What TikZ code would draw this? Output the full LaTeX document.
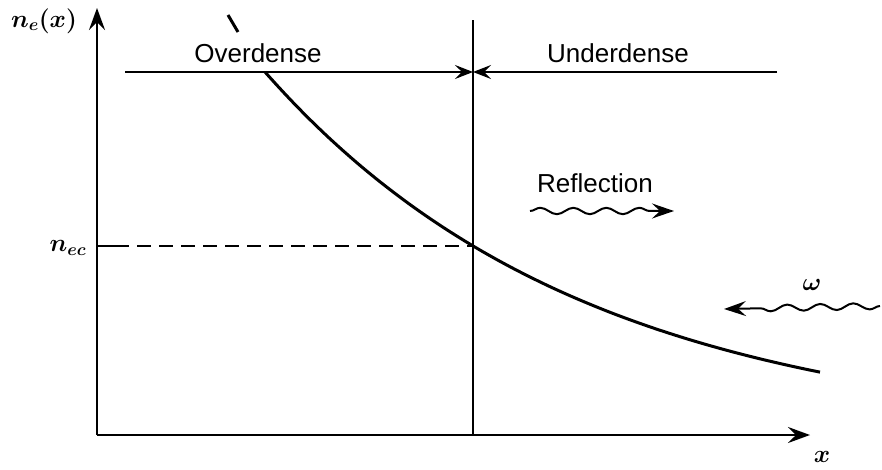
\documentclass[tikz,border=0pt]{standalone}
\usepackage{fontspec}
\setsansfont{Liberation Sans}
\usetikzlibrary{arrows.meta,decorations.pathmorphing}
\begin{document}
\begin{tikzpicture}[x=1pt,y=-1pt,
  axis/.style={line width=2pt,-{Stealth[length=22pt,width=16pt,inset=8pt]}},
  thin line/.style={line width=1.3pt},
  meet/.style={line width=1.3pt,-{Stealth[length=18pt,width=14pt,inset=7pt]}},
  wave/.style={line width=2pt,decorate,decoration={snake,amplitude=3.2pt,segment length=33pt,post length=20pt},-{Stealth[length=22pt,width=15pt,inset=8pt]}},
  lab/.style={font=\sffamily\fontsize{26}{30}\selectfont,inner sep=0pt},
  mlab/.style={font=\fontsize{27}{30}\selectfont\boldmath,inner sep=0pt}]
\useasboundingbox (0,0) rectangle (882,470);
\coordinate (O) at (97,435);
\coordinate (ytop) at (97,8);
\coordinate (xend) at (810,435);
\coordinate (vtop) at (473,20);
\coordinate (vbot) at (473,435);
\coordinate (hl) at (125,72);
\coordinate (hr) at (777,72);
\coordinate (hm) at (473,72);
\coordinate (dl) at (97,246);
\coordinate (dt) at (115,246);
\coordinate (dm) at (473,246);
\coordinate (t1) at (228,15);
\coordinate (t2) at (238,32);
\coordinate (r1) at (530,211);
\coordinate (r2) at (674,211);
\coordinate (w1) at (880,306);
\coordinate (w2) at (724,309);
% axes
\draw[axis] (O) -- (ytop);
\draw[axis] (O) -- (xend);
% vertical line
\draw[thin line] (vbot) -- (vtop);
% horizontal line with meeting arrows
\draw[meet] (hl) -- (hm);
\draw[meet] (hr) -- (hm);
% dashed level
\draw[thin line] (dl) -- (dt);
\draw[thin line,dash pattern=on 14pt off 8pt] (dt) -- (dm);
% curve
\draw[line width=3pt] plot[domain=265:820,samples=80,smooth] (\x,{437-365*exp(-0.00312*(\x-265))});
\draw[line width=3pt] (t1) -- (t2);
% wavy arrows
\draw[wave] (r1) -- (r2);
\draw[wave] (w1) -- (w2);
% labels
\node[lab] (over) at (258,53) {Overdense};
\node[lab] (under) at (618,53) {Underdense};
\node[lab] (refl) at (595,183) {Reflection};
\node[mlab] (omega) at (812,285) {$\omega$};
\node[mlab] (ne) at (44,21) {$n_e(x)$};
\node[mlab] (nec) at (68,248) {$n_{ec}$};
\node[mlab] (xl) at (822,457) {$x$};
\end{tikzpicture}
\end{document}
